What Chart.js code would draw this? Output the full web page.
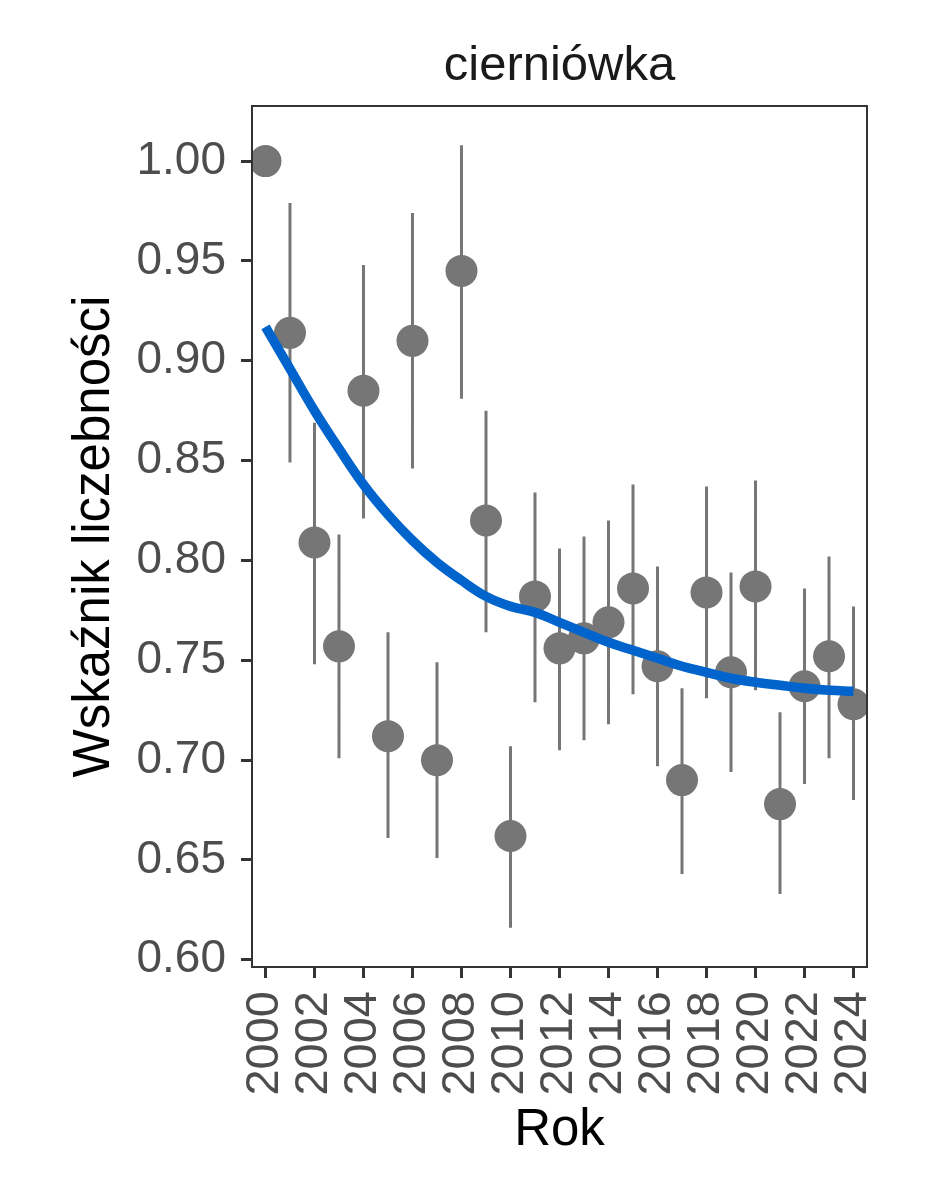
<!DOCTYPE html>
<html>
<head>
<meta charset="UTF-8">
<title>cierniówka</title>
<script src="https://cdn.jsdelivr.net/npm/chart.js@4.4.1/dist/chart.umd.min.js"></script>
<style>
  body { margin: 0; background: #fff; }
  canvas { display: block; }
</style>
</head>
<body>
<canvas id="canvas" width="944" height="1181"></canvas>
<script>
// wartości
const years = [2000, 2001, 2002, 2003, 2004, 2005, 2006, 2007, 2008, 2009, 2010, 2011, 2012,
               2013, 2014, 2015, 2016, 2017, 2018, 2019, 2020, 2021, 2022, 2023, 2024];
const index = [1.000, 0.914, 0.809, 0.757, 0.885, 0.712, 0.910, 0.700, 0.945, 0.820, 0.662, 0.782, 0.756,
               0.761, 0.769, 0.786, 0.747, 0.690, 0.784, 0.744, 0.787, 0.678, 0.737, 0.752, 0.728];
const lower = [null, 0.849, 0.748, 0.701, 0.821, 0.661, 0.846, 0.651, 0.881, 0.764, 0.616, 0.729, 0.705,
               0.710, 0.718, 0.733, 0.697, 0.643, 0.731, 0.694, 0.735, 0.633, 0.688, 0.701, 0.680];
const upper = [null, 0.979, 0.869, 0.813, 0.948, 0.764, 0.974, 0.749, 1.008, 0.875, 0.707, 0.834, 0.806,
               0.812, 0.820, 0.838, 0.797, 0.736, 0.837, 0.794, 0.840, 0.724, 0.786, 0.802, 0.777];
const trend = [0.917, 0.896, 0.875, 0.856, 0.838, 0.823, 0.810, 0.799, 0.790, 0.782, 0.777, 0.774, 0.769,
               0.764, 0.759, 0.755, 0.751, 0.747, 0.744, 0.741, 0.739, 0.7375, 0.736, 0.735, 0.7345];
const xTicks = [2000, 2002, 2004, 2006, 2008, 2010, 2012, 2014, 2016, 2018, 2020, 2022, 2024];
const yTicks = [0.60, 0.65, 0.70, 0.75, 0.80, 0.85, 0.90, 0.95, 1.00];

const FONT = "'Liberation Sans', Arial, sans-serif";

let barData = [];
years.forEach(function(yr, i) {
  if (lower[i] == null) return;
  barData.push({x: yr, y: lower[i]}, {x: yr, y: upper[i]}, {x: yr, y: null});
});

// ramka panelu jak w ggplot
const panelBorder = {
  id: 'panelBorder',
  afterDatasetsDraw(chart) {
    const a = chart.chartArea, ctx = chart.ctx;
    ctx.save();
    ctx.strokeStyle = '#333333';
    ctx.lineWidth = 2;
    ctx.strokeRect(a.left, a.top, a.right - a.left, a.bottom - a.top);
    ctx.restore();
  }
};

new Chart(document.getElementById('canvas'), {
  type: 'scatter',
  data: {
    datasets: [
      {
        type: 'line',
        data: years.map(function(yr, i) { return {x: yr, y: trend[i]}; }),
        borderColor: '#0064CC',
        borderWidth: 9.5,
        pointRadius: 0,
        tension: 0.4,
        fill: false,
        clip: 0,
        order: 1
      },
      {
        data: years.map(function(yr, i) { return {x: yr, y: index[i]}; }),
        backgroundColor: '#767676',
        borderWidth: 0,
        pointRadius: 16,
        pointHoverRadius: 16,
        clip: 0,
        order: 2
      },
      {
        type: 'line',
        data: barData,
        borderColor: '#767676',
        borderWidth: 3,
        pointRadius: 0,
        spanGaps: false,
        fill: false,
        clip: 0,
        order: 3
      }
    ]
  },
  options: {
    responsive: false,
    animation: false,
    devicePixelRatio: 1,
    layout: { padding: {left: 0, right: 77, top: 0, bottom: 0} },
    plugins: {
      legend: { display: false },
      tooltip: { enabled: false }
    },
    scales: {
      x: {
        type: 'linear',
        min: 1999.45,
        max: 2024.55,
        afterBuildTicks: function(s) { s.ticks = xTicks.map(function(v) { return {value: v}; }); },
        afterFit: function(s) { s.height = 214; },
        grid: { drawOnChartArea: false, tickLength: 11, tickWidth: 3, tickColor: '#333333' },
        border: { display: false },
        ticks: {
          autoSkip: false,
          minRotation: 90,
          maxRotation: 90,
          padding: 13,
          color: '#4d4d4d',
          font: { family: FONT, size: 47 },
          callback: function(v) { return String(v); }
        },
        title: {
          display: true,
          text: 'Rok',
          color: '#000000',
          font: { family: FONT, size: 51 },
          padding: { top: 0, bottom: 19 }
        }
      },
      // górna oś tylko po to, żeby tytuł panelu był nad obszarem wykresu
      strip: {
        type: 'linear',
        position: 'top',
        axis: 'x',
        min: 1999.45,
        max: 2024.55,
        afterFit: function(s) { s.height = 106; },
        grid: { display: false },
        border: { display: false },
        ticks: { display: false },
        title: {
          display: true,
          text: 'cierniówka',
          color: '#1a1a1a',
          font: { family: FONT, size: 49 },
          padding: { top: 37, bottom: 0 }
        }
      },
      y: {
        min: 0.5964,
        max: 1.0276,
        afterBuildTicks: function(s) { s.ticks = yTicks.map(function(v) { return {value: v}; }); },
        afterFit: function(s) { s.width = 252; },
        grid: { drawOnChartArea: false, tickLength: 11, tickWidth: 3, tickColor: '#333333' },
        border: { display: false },
        ticks: {
          padding: 15,
          color: '#4d4d4d',
          font: { family: FONT, size: 46 },
          callback: function(v) { return v.toFixed(2); }
        },
        title: {
          display: true,
          text: 'Wskaźnik liczebności',
          color: '#000000',
          font: { family: FONT, size: 51 },
          padding: { top: 64, bottom: 0 }
        }
      }
    }
  },
  plugins: [panelBorder]
});
</script>
</body>
</html>
